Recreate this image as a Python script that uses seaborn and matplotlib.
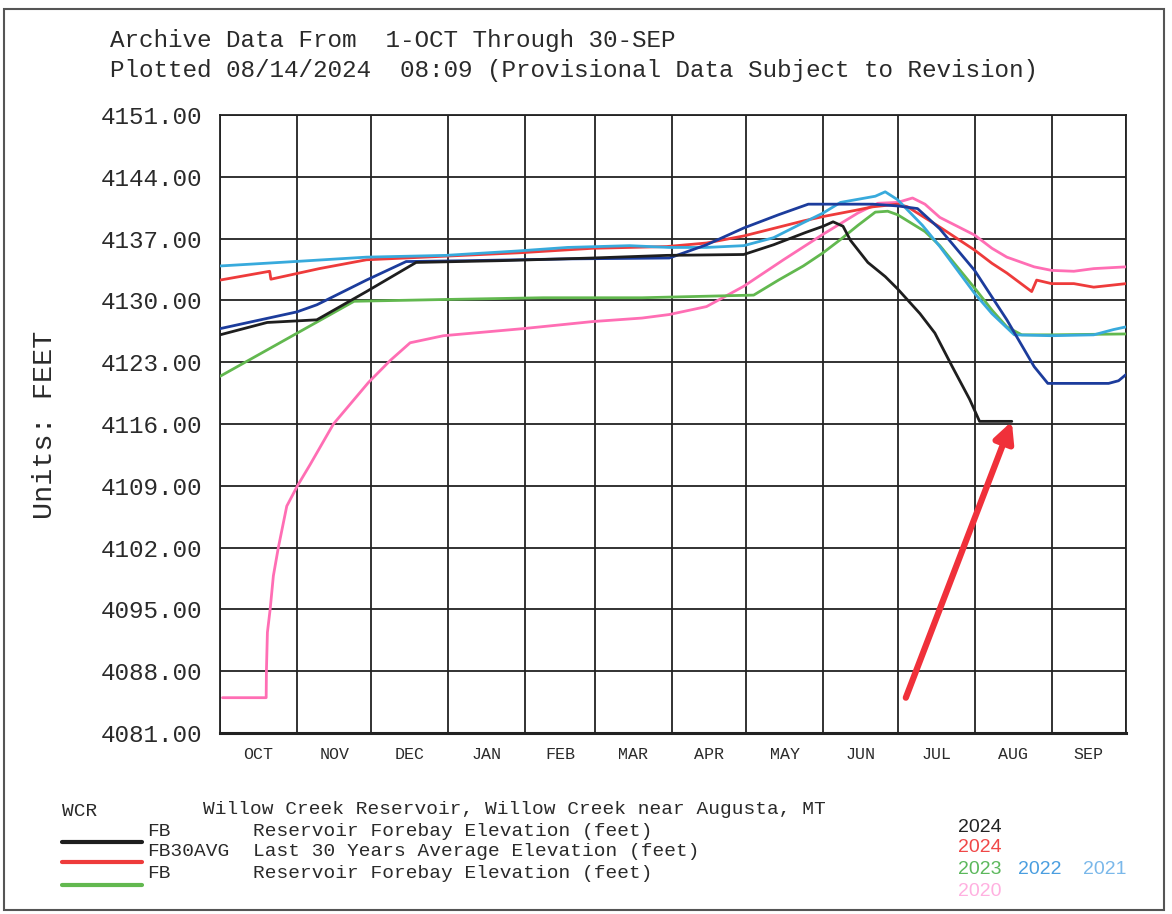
import matplotlib
matplotlib.use("Agg")
import matplotlib.pyplot as plt
import seaborn as sns
import pandas as pd
from matplotlib.patches import Rectangle
from matplotlib.lines import Line2D

# ---------------- data (day of water year from 1-OCT, elevation in feet) -------------
days_2024 = [0, 19, 39, 59, 79, 113, 150, 180, 211, 223, 236, 243, 247, 251, 254, 261, 268, 273, 282, 288, 295, 302, 306, 319]
elev_2024 = [4126.1, 4127.5, 4127.8, 4131.0, 4134.3, 4134.5, 4134.8, 4135.1, 4135.2, 4136.3, 4137.7, 4138.4, 4138.9, 4138.4,
             4136.8, 4134.3, 4132.7, 4131.3, 4128.5, 4126.3, 4122.5, 4118.8, 4116.3, 4116.3]

days_avg = [0, 20, 20.5, 40, 59, 90, 121, 150, 180, 196, 211, 235, 243, 256, 263, 273, 277, 290, 304, 311, 317, 327, 329, 335, 344, 352, 365]
elev_avg = [4132.3, 4133.3, 4132.4, 4133.6, 4134.6, 4135.0, 4135.4, 4135.9, 4136.1, 4136.5, 4137.3, 4139.0, 4139.5, 4140.2,
            4140.6, 4140.9, 4140.6, 4138.3, 4135.7, 4134.2, 4133.1, 4131.0, 4132.3, 4131.9, 4131.9, 4131.5, 4131.9]

days_2023 = [0, 54, 90, 130, 170, 200, 215, 225, 235, 243, 250, 257, 264, 269, 273, 284, 290, 304, 311, 317, 323, 335, 365]
elev_2023 = [4121.4, 4129.9, 4130.1, 4130.3, 4130.3, 4130.5, 4130.6, 4132.3, 4133.9, 4135.4, 4136.9, 4138.5, 4140.0, 4140.1,
             4139.7, 4137.8, 4136.2, 4131.4, 4128.9, 4127.0, 4126.1, 4126.1, 4126.2]

days_2022 = [0, 31, 39, 59, 75, 100, 140, 181, 196, 211, 225, 237, 243, 263, 273, 281, 290, 304, 317, 328, 333.5, 345, 358, 362, 365]
elev_2022 = [4126.8, 4128.7, 4129.5, 4132.3, 4134.4, 4134.5, 4134.7, 4134.8, 4136.3, 4138.2, 4139.7, 4140.9, 4140.9, 4140.9,
             4140.7, 4140.4, 4138.1, 4133.4, 4127.8, 4122.5, 4120.6, 4120.6, 4120.6, 4120.9, 4121.6]

days_2021 = [0, 30, 59, 91, 120, 140, 165, 181, 196, 211, 223, 235, 243, 250, 258, 264, 268, 273, 283, 290, 304, 311, 320, 335, 352, 360, 365]
elev_2021 = [4133.9, 4134.4, 4134.9, 4135.1, 4135.6, 4136.0, 4136.2, 4136.0, 4136.0, 4136.2, 4137.1, 4138.8, 4139.9, 4141.1,
             4141.5, 4141.8, 4142.3, 4141.4, 4138.5, 4136.1, 4130.8, 4128.5, 4126.1, 4126.0, 4126.1, 4126.7, 4127.0]

days_2020 = [1, 18.6, 18.7, 19.1, 20.2, 21.5, 23.5, 26.9, 31.2, 36.3, 45.7, 59.8, 68.6, 76.6, 90, 122, 150, 170, 181, 196,
             211, 227, 243, 257, 265, 273, 279, 284, 290, 304, 311, 317, 328, 335, 344, 352, 365]
elev_2020 = [4085.0, 4085.0, 4088.0, 4092.4, 4095.0, 4098.8, 4102.0, 4106.7, 4109.0, 4111.4, 4116.0, 4120.7, 4123.2, 4125.2,
             4126.0, 4126.8, 4127.6, 4128.0, 4128.4, 4129.3, 4131.6, 4134.6, 4137.5, 4139.9, 4141.0, 4141.1, 4141.6, 4140.9,
             4139.4, 4137.4, 4135.9, 4134.9, 4133.8, 4133.4, 4133.3, 4133.6, 4133.8]

month_starts = [0, 31, 61, 92, 123, 151, 182, 212, 243, 273, 304, 335, 365]
month_labels = ["OCT", "NOV", "DEC", "JAN", "FEB", "MAR", "APR", "MAY", "JUN", "JUL", "AUG", "SEP"]
y_ticks = [4081, 4088, 4095, 4102, 4109, 4116, 4123, 4130, 4137, 4144, 4151]

arrow_tail = (276.3, 4085.0)

# ---------------- styling ----------------
sns.set_theme(style="white")
plt.rcParams['font.family'] = ['Liberation Mono', 'DejaVu Sans Mono']

C_BLACK = "#1e1e1e"
C_RED = "#ee3b3b"
C_GREEN = "#62b84f"
C_NAVY = "#1c3c9c"
C_CYAN = "#38aadc"
C_PINK = "#ff6eb4"
TXT = "#2a2a2a"

W, H = 1172, 914
fig = plt.figure(figsize=(W / 100, H / 100), dpi=100)
fig.patch.set_facecolor("white")
ax = fig.add_axes([220 / W, 1 - 733 / H, (1126 - 220) / W, (733 - 115) / H])

series = [
    (days_2020, elev_2020, C_PINK),
    (days_2023, elev_2023, C_GREEN),
    (days_avg, elev_avg, C_RED),
    (days_2021, elev_2021, C_CYAN),
    (days_2022, elev_2022, C_NAVY),
    (days_2024, elev_2024, C_BLACK),
]
for dx, dy, col in series:
    df = pd.DataFrame({"day": dx, "elev": dy})
    sns.lineplot(data=df, x="day", y="elev", ax=ax, color=col, lw=2.0,
                 estimator=None, sort=False, zorder=3)

ax.set_xlim(month_starts[0], month_starts[-1])
ax.set_ylim(y_ticks[0], y_ticks[-1])
ax.set_xlabel("")
ax.set_ylabel("")

ax.set_yticks(y_ticks)
ax.set_yticklabels([f"{v:.2f}" for v in y_ticks], fontsize=17.5, color=TXT)
ax.set_xticks(month_starts)
ax.set_xticklabels([""] * len(month_starts))
mids = [(month_starts[i] + month_starts[i + 1]) / 2 for i in range(12)]
ax.set_xticks(mids, minor=True)
ax.set_xticklabels(month_labels, minor=True, fontsize=12, color=TXT)
ax.tick_params(axis="x", which="major", length=14, width=1.3, color="#222", direction="out")
ax.tick_params(axis="x", which="minor", length=0, pad=10)
ax.tick_params(axis="y", which="major", length=10, width=1.3, color="#222", direction="out", pad=3)

ax.grid(True, which="major", color="#222", lw=1.3)
for s in ax.spines.values():
    s.set_color("#222")
    s.set_linewidth(1.3)
    s.set_visible(True)
ax.spines["bottom"].set_linewidth(2.2)

# arrow pointing to end of 2024 record
ax.annotate("", xy=(days_2024[-1], elev_2024[-1]), xytext=arrow_tail,
            arrowprops=dict(arrowstyle="-|>", color="#f0303a", lw=4.5, mutation_scale=30,
                            shrinkA=0, shrinkB=0), zorder=6)

# titles and axis label
fig.text(110 / W, 1 - 40 / H, "Archive Data From  1-OCT Through 30-SEP", fontsize=17.5,
         color=TXT, va="center", ha="left")
fig.text(110 / W, 1 - 71 / H, "Plotted 08/14/2024  08:09 (Provisional Data Subject to Revision)",
         fontsize=17.5, color=TXT, va="center", ha="left")
fig.text(45 / W, 1 - 425 / H, "Units: FEET", fontsize=20.5, rotation=90, color=TXT,
         va="center", ha="center")

# legend block
fs = 14
fig.text(62 / W, 1 - 811 / H, "WCR", fontsize=fs, color=TXT, va="center")
fig.text(203 / W, 1 - 809 / H, "Willow Creek Reservoir, Willow Creek near Augusta, MT", fontsize=fs,
         color=TXT, va="center")
rows = [("FB", "Reservoir Forebay Elevation (feet)", 831, 842, C_BLACK),
        ("FB30AVG", "Last 30 Years Average Elevation (feet)", 852, 862, C_RED),
        ("FB", "Reservoir Forebay Elevation (feet)", 874, 885, C_GREEN)]
for code, desc, ty, ly, col in rows:
    fig.text(147 / W, 1 - ty / H, code, fontsize=fs, color=TXT, va="center")
    fig.text(253 / W, 1 - ty / H, desc, fontsize=fs, color=TXT, va="center")
    fig.add_artist(Line2D([62 / W, 142 / W], [1 - ly / H, 1 - ly / H], color=col, lw=3,
                          transform=fig.transFigure))

yr_font = ['Liberation Sans', 'DejaVu Sans']
fig.text(958 / W, 1 - 827 / H, "2024", fontsize=14, color="#222", va="center", family=yr_font)
fig.text(958 / W, 1 - 848 / H, "2024", fontsize=14, color="#f04848", va="center", family=yr_font)
fig.text(958 / W, 1 - 870 / H, "2023", fontsize=14, color="#5cb85c", va="center", family=yr_font)
fig.text(1018 / W, 1 - 870 / H, "2022", fontsize=14, color="#4a9ee0", va="center", family=yr_font)
fig.text(1083 / W, 1 - 870 / H, "2021", fontsize=14, color="#7ab8ea", va="center", family=yr_font)
fig.text(958 / W, 1 - 892 / H, "2020", fontsize=14, color="#ffb0e0", va="center", family=yr_font)

# page border of the scanned sheet
fig.add_artist(Rectangle((4 / W, 4 / H), (1164 - 4) / W, (905 - 4) / H, transform=fig.transFigure,
                         fill=False, edgecolor="#555", lw=1.5))

fig.savefig("out.png", dpi=100, facecolor="white")
